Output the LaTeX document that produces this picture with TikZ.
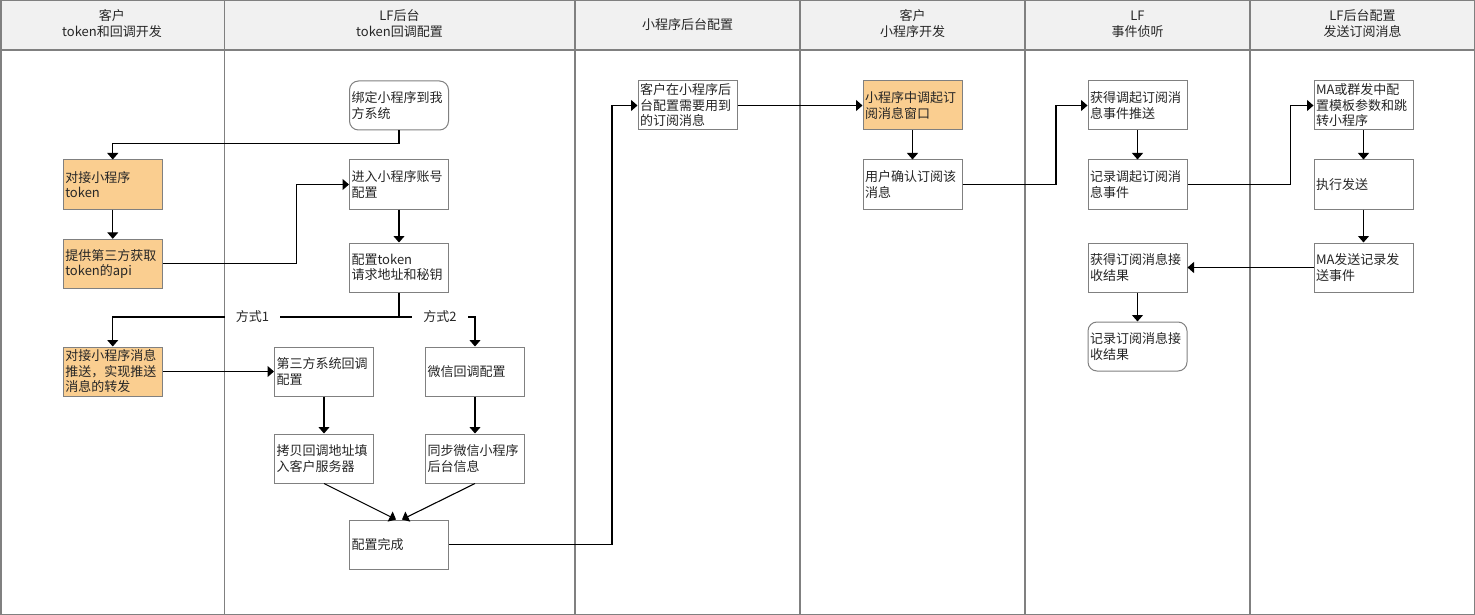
\documentclass[tikz,border=0pt]{standalone}
\usepackage{fontspec}
\setmainfont{Noto Sans CJK SC}
\usetikzlibrary{arrows.meta}
\definecolor{lanegray}{HTML}{808080}
\definecolor{boxgray}{HTML}{808080}
\definecolor{hdrfill}{HTML}{F1F1F1}
\definecolor{orangefill}{HTML}{FACE90}
\definecolor{txt}{HTML}{262626}
\tikzset{
  stepbox/.style={draw=boxgray, line width=1pt, fill=white, minimum width=99pt,
    minimum height=49pt, text width=95pt, align=left, inner xsep=2pt, inner ysep=0pt,
    font=\fontsize{13}{15.5}\selectfont, text=txt, anchor=center},
  orangebox/.style={stepbox, fill=orangefill},
  roundbox/.style={stepbox, rounded corners=9pt},
  flow/.style={draw=black, line width=1.1pt, -{Triangle[width=11pt,length=6.5pt]}},
  hdr/.style={font=\fontsize{13}{16}\selectfont, align=center, text=txt},
  lbl/.style={fill=white, font=\fontsize{13}{15.5}\selectfont, text=txt, inner xsep=11pt, inner ysep=2pt}
}
\begin{document}
\begin{tikzpicture}[x=1pt,y=-1pt]
\useasboundingbox (0,0) rectangle (1475,615);
% background and lanes
\fill[white] (0,0) rectangle (1475,615);
\fill[hdrfill] (0,0) rectangle (1475,50);
\draw[lanegray, line width=1.5pt] (0,50) -- (1475,50);
\draw[lanegray, line width=0.8pt] (224,0) -- (224,615);
\foreach \cx in {575,800,1025,1250} \draw[lanegray, line width=1.5pt] (\cx,0) -- (\cx,615);
\draw[lanegray, line width=1.5pt] (0.75,0.75) rectangle (1474.25,614.25);
% headers
\node[hdr] (h1) at (112,24) {客户\\token和回调开发};
\node[hdr] (h2) at (399.5,24) {LF后台\\token回调配置};
\node[hdr] (h3) at (687.5,24.5) {小程序后台配置};
\node[hdr] (h4) at (912.5,24) {客户\\小程序开发};
\node[hdr] (h5) at (1137.5,24) {LF\\事件侦听};
\node[hdr] (h6) at (1362.5,24) {LF后台配置\\发送订阅消息};
% nodes
\node[roundbox] (bind) at (399,105.5) {绑定小程序到我\\方系统};
\node[stepbox] (enter) at (399,184.5) {进入小程序账号\\配置};
\node[stepbox] (cfgtok) at (399,267.5) {配置token\\请求地址和秘钥};
\node[orangebox] (tok) at (112.75,184.5) {对接小程序\\token};
\node[orangebox] (api) at (112.75,263.8) {提供第三方获取\\token的api};
\node[orangebox] (push) at (112.75,371.5) {对接小程序消息\\推送，实现推送\\消息的转发};
\node[stepbox] (third) at (324,371.5) {第三方系统回调\\配置};
\node[stepbox] (wx) at (475,371.5) {微信回调配置};
\node[stepbox] (copy) at (324,458.5) {拷贝回调地址填\\入客户服务器};
\node[stepbox] (sync) at (475,458.5) {同步微信小程序\\后台信息};
\node[stepbox] (done) at (399,544.5) {配置完成};
\node[stepbox] (sub) at (687.5,105.5) {客户在小程序后\\台配置需要用到\\的订阅消息};
\node[orangebox] (call) at (912.5,105.5) {小程序中调起订\\阅消息窗口};
\node[stepbox] (confirm) at (912.5,184.5) {用户确认订阅该\\消息};
\node[stepbox] (getcall) at (1137.5,105.5) {获得调起订阅消\\息事件推送};
\node[stepbox] (rec) at (1137.5,184.5) {记录调起订阅消\\息事件};
\node[stepbox] (getres) at (1137.5,267.5) {获得订阅消息接\\收结果};
\node[roundbox] (recres) at (1137.5,346.5) {记录订阅消息接\\收结果};
\node[stepbox] (ma) at (1363.5,105.5) {MA或群发中配\\置模板参数和跳\\转小程序};
\node[stepbox] (exec) at (1363.5,184.5) {执行发送};
\node[stepbox] (masend) at (1363.5,267.5) {MA发送记录发\\送事件};
% connectors
\draw[flow] (bind.south) -- ++(0,13) -| (tok.north);
\draw[flow] (tok.south) -- (api.north);
\draw[flow] (api.east) -- ++(134,0) |- (enter.west);
\draw[flow] (enter.south) -- (cfgtok.north);
\draw[flow] (cfgtok.south) -- ++(0,24.5) -| (push.north);
\draw[flow] (cfgtok.south) -- ++(0,24.5) -| (wx.north);
\draw[flow] (push.east) -- (third.west);
\draw[flow] (third.south) -- (copy.north);
\draw[flow] (wx.south) -- (sync.north);
\draw[flow] (copy.south) -- ([xshift=-3pt]done.north);
\draw[flow] (sync.south) -- ([xshift=3pt]done.north);
\draw[flow] (done.east) -- ++(163,0) |- (sub.west);
\draw[flow] (sub.east) -- (call.west);
\draw[flow] (call.south) -- (confirm.north);
\draw[flow] (confirm.east) -- ++(93.5,0) |- (getcall.west);
\draw[flow] (getcall.south) -- (rec.north);
\draw[flow] (rec.east) -- ++(103,0) |- (ma.west);
\draw[flow] (ma.south) -- (exec.north);
\draw[flow] (exec.south) -- (masend.north);
\draw[flow] (masend.west) -- (getres.east);
\draw[flow] (getres.south) -- (recres.north);
% edge labels
\node[lbl] (m1) at (252.5,316.5) {方式1};
\node[lbl] (m2) at (440,316.5) {方式2};
\end{tikzpicture}
\end{document}
